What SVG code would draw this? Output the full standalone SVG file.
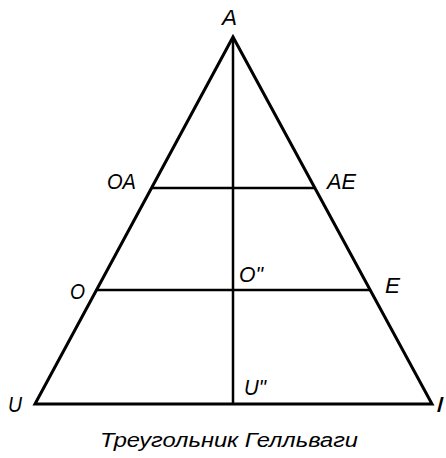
<svg xmlns="http://www.w3.org/2000/svg" width="446" height="458" viewBox="0 0 446 458">
<style>
.ln{stroke:#000;fill:none;stroke-linecap:butt}
.lb{font-family:"Liberation Sans","DejaVu Sans",sans-serif;font-style:italic;font-size:22px;fill:#000}
.cap{font-family:"Liberation Sans","DejaVu Sans",sans-serif;font-style:italic;font-size:20px;fill:#000}
</style>
<rect width="446" height="458" fill="#fff"/>
<g id="connectors">
<polygon class="ln" points="35,404 233,37 432,404" stroke-width="3" stroke-linejoin="miter"/>
<line class="ln" x1="233" y1="38" x2="233" y2="404" stroke-width="2.5"/>
<line class="ln" x1="152" y1="188" x2="314" y2="188" stroke-width="2.5"/>
<line class="ln" x1="97" y1="290" x2="370" y2="290" stroke-width="2.5"/>
</g>
<g id="A"><text class="lb" x="222" y="25" textLength="15" lengthAdjust="spacingAndGlyphs" font-size="18">A</text></g>
<g id="OA"><text class="lb" x="107" y="189" textLength="29" lengthAdjust="spacingAndGlyphs">OA</text></g>
<g id="AE"><text class="lb" x="327" y="189" textLength="29" lengthAdjust="spacingAndGlyphs">AE</text></g>
<g id="O"><text class="lb" x="70" y="299" textLength="15" lengthAdjust="spacingAndGlyphs" font-size="25">O</text></g>
<g id="O2"><text class="lb" x="239" y="282" textLength="24" lengthAdjust="spacingAndGlyphs" font-size="24">O"</text></g>
<g id="E"><text class="lb" x="385" y="293" textLength="15" lengthAdjust="spacingAndGlyphs" font-size="24">E</text></g>
<g id="U"><text class="lb" x="8" y="412" textLength="14" lengthAdjust="spacingAndGlyphs" font-size="24">U</text></g>
<g id="U2"><text class="lb" x="244" y="395" textLength="22" lengthAdjust="spacingAndGlyphs" font-size="23">U"</text></g>
<g id="I"><text class="lb" x="436" y="412" textLength="8" lengthAdjust="spacingAndGlyphs" font-size="24">I</text></g>
<g id="caption"><text class="cap" x="100" y="447" textLength="258" lengthAdjust="spacingAndGlyphs">Треугольник Гелльваги</text></g>
</svg>
